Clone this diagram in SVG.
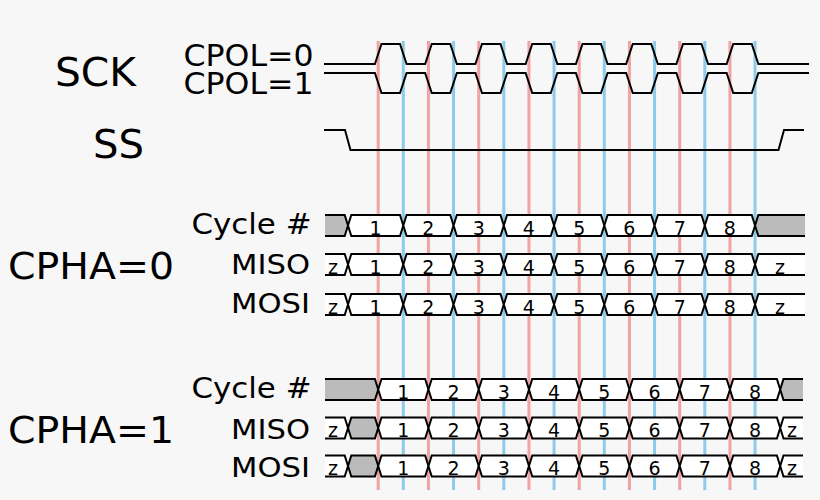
<svg xmlns="http://www.w3.org/2000/svg" width="820" height="500" viewBox="0 0 820 500">
<style>
.lbl{font-family:"DejaVu Sans","Liberation Sans",sans-serif;fill:#000}
.num{font-family:"DejaVu Sans","Liberation Sans",sans-serif;font-size:19px;fill:#000;text-anchor:middle}
.red{stroke:#f0a3a3;stroke-width:3}
.blue{stroke:#8ecbea;stroke-width:3}
.wave{fill:none;stroke:#000;stroke-width:2;stroke-linejoin:miter}
.seg{fill:#fff;stroke:#000;stroke-width:2}
.gseg{fill:#bbb;stroke:#000;stroke-width:2}
.gfill{fill:#bbb;stroke:none}
.wfill{fill:#fff;stroke:none}
.edge{fill:none;stroke:#000;stroke-width:2}
</style>
<rect width="820" height="500" fill="#f7f7f7"/>
<g id="guides">
<line class="red" x1="378.2" y1="41" x2="378.2" y2="490"/>
<line class="red" x1="428.45" y1="41" x2="428.45" y2="490"/>
<line class="red" x1="478.7" y1="41" x2="478.7" y2="490"/>
<line class="red" x1="528.95" y1="41" x2="528.95" y2="490"/>
<line class="red" x1="579.2" y1="41" x2="579.2" y2="490"/>
<line class="red" x1="629.45" y1="41" x2="629.45" y2="490"/>
<line class="red" x1="679.7" y1="41" x2="679.7" y2="490"/>
<line class="red" x1="729.95" y1="41" x2="729.95" y2="490"/>
<line class="blue" x1="403.3" y1="41" x2="403.3" y2="490"/>
<line class="blue" x1="453.55" y1="41" x2="453.55" y2="490"/>
<line class="blue" x1="503.8" y1="41" x2="503.8" y2="490"/>
<line class="blue" x1="554.05" y1="41" x2="554.05" y2="490"/>
<line class="blue" x1="604.3" y1="41" x2="604.3" y2="490"/>
<line class="blue" x1="654.55" y1="41" x2="654.55" y2="490"/>
<line class="blue" x1="704.8" y1="41" x2="704.8" y2="490"/>
<line class="blue" x1="755.05" y1="41" x2="755.05" y2="490"/>
</g>
<g id="labels">
<text class="lbl" x="55" y="86" font-size="39.5" textLength="81" lengthAdjust="spacingAndGlyphs">SCK</text>
<text class="lbl" x="183.5" y="66" font-size="30" textLength="130" lengthAdjust="spacingAndGlyphs">CPOL=0</text>
<text class="lbl" x="183.5" y="94" font-size="30" textLength="130" lengthAdjust="spacingAndGlyphs">CPOL=1</text>
<text class="lbl" x="93" y="158.3" font-size="39.5" textLength="51" lengthAdjust="spacingAndGlyphs">SS</text>
<text class="lbl" x="8" y="278.5" font-size="37" textLength="166" lengthAdjust="spacingAndGlyphs">CPHA=0</text>
<text class="lbl" x="8" y="443" font-size="37" textLength="166" lengthAdjust="spacingAndGlyphs">CPHA=1</text>
<text class="lbl" x="191.5" y="234.3" font-size="27.5" textLength="120" lengthAdjust="spacingAndGlyphs">Cycle #</text>
<text class="lbl" x="231" y="274" font-size="27" textLength="79" lengthAdjust="spacingAndGlyphs">MISO</text>
<text class="lbl" x="231" y="313" font-size="27" textLength="79" lengthAdjust="spacingAndGlyphs">MOSI</text>
<text class="lbl" x="191.5" y="398.3" font-size="27.5" textLength="120" lengthAdjust="spacingAndGlyphs">Cycle #</text>
<text class="lbl" x="231" y="439" font-size="27" textLength="79" lengthAdjust="spacingAndGlyphs">MISO</text>
<text class="lbl" x="231" y="477" font-size="27" textLength="79" lengthAdjust="spacingAndGlyphs">MOSI</text>
</g>
<g id="sck">
<path class="wave" d="M324,64H374.9L381.5,44H400L406.6,64H425.15L431.75,44H450.25L456.85,64H475.4L482,44H500.5L507.1,64H525.65L532.25,44H550.75L557.35,64H575.9L582.5,44H601L607.6,64H626.15L632.75,44H651.25L657.85,64H676.4L683,44H701.5L708.1,64H726.65L733.25,44H751.75L758.35,64H809"/>
<path class="wave" d="M324,73H374.9L381.5,93H400L406.6,73H425.15L431.75,93H450.25L456.85,73H475.4L482,93H500.5L507.1,73H525.65L532.25,93H550.75L557.35,73H575.9L582.5,93H601L607.6,73H626.15L632.75,93H651.25L657.85,73H676.4L683,93H701.5L708.1,73H726.65L733.25,93H751.75L758.35,73H809"/>
</g>
<g id="ss">
<path class="wave" d="M324,130H345L350.5,150H778.5L784,130H804"/>
</g>
<g id="cpha0-cycle" transform="translate(0,215)">
<polygon class="gfill" points="325,0 344.7,0 348,10.5 344.7,21 325,21"/>
<path class="edge" d="M325,0H344.7L348,10.5L344.7,21H325"/>
<polygon class="seg" points="348,10.5 351.3,0 400,0 403.3,10.5 400,21 351.3,21"/>
<polygon class="seg" points="403.3,10.5 406.6,0 450.25,0 453.55,10.5 450.25,21 406.6,21"/>
<polygon class="seg" points="453.55,10.5 456.85,0 500.5,0 503.8,10.5 500.5,21 456.85,21"/>
<polygon class="seg" points="503.8,10.5 507.1,0 550.75,0 554.05,10.5 550.75,21 507.1,21"/>
<polygon class="seg" points="554.05,10.5 557.35,0 601,0 604.3,10.5 601,21 557.35,21"/>
<polygon class="seg" points="604.3,10.5 607.6,0 651.25,0 654.55,10.5 651.25,21 607.6,21"/>
<polygon class="seg" points="654.55,10.5 657.85,0 701.5,0 704.8,10.5 701.5,21 657.85,21"/>
<polygon class="seg" points="704.8,10.5 708.1,0 751.75,0 755.05,10.5 751.75,21 708.1,21"/>
<polygon class="gfill" points="755.05,10.5 758.35,0 805,0 805,21 758.35,21"/>
<path class="edge" d="M805,0H758.35L755.05,10.5L758.35,21H805"/>
<text class="num" x="375.6" y="19.5">1</text>
<text class="num" x="428.4" y="19.5">2</text>
<text class="num" x="478.7" y="19.5">3</text>
<text class="num" x="528.9" y="19.5">4</text>
<text class="num" x="579.2" y="19.5">5</text>
<text class="num" x="629.4" y="19.5">6</text>
<text class="num" x="679.7" y="19.5">7</text>
<text class="num" x="729.9" y="19.5">8</text>
</g>
<g id="cpha0-miso" transform="translate(0,254)">
<polygon class="wfill" points="325,0 344.7,0 348,10.5 344.7,21 325,21"/>
<path class="edge" d="M325,0H344.7L348,10.5L344.7,21H325"/>
<polygon class="seg" points="348,10.5 351.3,0 400,0 403.3,10.5 400,21 351.3,21"/>
<polygon class="seg" points="403.3,10.5 406.6,0 450.25,0 453.55,10.5 450.25,21 406.6,21"/>
<polygon class="seg" points="453.55,10.5 456.85,0 500.5,0 503.8,10.5 500.5,21 456.85,21"/>
<polygon class="seg" points="503.8,10.5 507.1,0 550.75,0 554.05,10.5 550.75,21 507.1,21"/>
<polygon class="seg" points="554.05,10.5 557.35,0 601,0 604.3,10.5 601,21 557.35,21"/>
<polygon class="seg" points="604.3,10.5 607.6,0 651.25,0 654.55,10.5 651.25,21 607.6,21"/>
<polygon class="seg" points="654.55,10.5 657.85,0 701.5,0 704.8,10.5 701.5,21 657.85,21"/>
<polygon class="seg" points="704.8,10.5 708.1,0 751.75,0 755.05,10.5 751.75,21 708.1,21"/>
<polygon class="wfill" points="755.05,10.5 758.35,0 805,0 805,21 758.35,21"/>
<path class="edge" d="M805,0H758.35L755.05,10.5L758.35,21H805"/>
<text class="num" x="333" y="19.5">z</text>
<text class="num" x="375.6" y="19.5">1</text>
<text class="num" x="428.4" y="19.5">2</text>
<text class="num" x="478.7" y="19.5">3</text>
<text class="num" x="528.9" y="19.5">4</text>
<text class="num" x="579.2" y="19.5">5</text>
<text class="num" x="629.4" y="19.5">6</text>
<text class="num" x="679.7" y="19.5">7</text>
<text class="num" x="729.9" y="19.5">8</text>
<text class="num" x="780" y="19.5">z</text>
</g>
<g id="cpha0-mosi" transform="translate(0,294)">
<polygon class="wfill" points="325,0 344.7,0 348,10.5 344.7,21 325,21"/>
<path class="edge" d="M325,0H344.7L348,10.5L344.7,21H325"/>
<polygon class="seg" points="348,10.5 351.3,0 400,0 403.3,10.5 400,21 351.3,21"/>
<polygon class="seg" points="403.3,10.5 406.6,0 450.25,0 453.55,10.5 450.25,21 406.6,21"/>
<polygon class="seg" points="453.55,10.5 456.85,0 500.5,0 503.8,10.5 500.5,21 456.85,21"/>
<polygon class="seg" points="503.8,10.5 507.1,0 550.75,0 554.05,10.5 550.75,21 507.1,21"/>
<polygon class="seg" points="554.05,10.5 557.35,0 601,0 604.3,10.5 601,21 557.35,21"/>
<polygon class="seg" points="604.3,10.5 607.6,0 651.25,0 654.55,10.5 651.25,21 607.6,21"/>
<polygon class="seg" points="654.55,10.5 657.85,0 701.5,0 704.8,10.5 701.5,21 657.85,21"/>
<polygon class="seg" points="704.8,10.5 708.1,0 751.75,0 755.05,10.5 751.75,21 708.1,21"/>
<polygon class="wfill" points="755.05,10.5 758.35,0 805,0 805,21 758.35,21"/>
<path class="edge" d="M805,0H758.35L755.05,10.5L758.35,21H805"/>
<text class="num" x="333" y="19.5">z</text>
<text class="num" x="375.6" y="19.5">1</text>
<text class="num" x="428.4" y="19.5">2</text>
<text class="num" x="478.7" y="19.5">3</text>
<text class="num" x="528.9" y="19.5">4</text>
<text class="num" x="579.2" y="19.5">5</text>
<text class="num" x="629.4" y="19.5">6</text>
<text class="num" x="679.7" y="19.5">7</text>
<text class="num" x="729.9" y="19.5">8</text>
<text class="num" x="780" y="19.5">z</text>
</g>
<g id="cpha1-cycle" transform="translate(0,379)">
<polygon class="gfill" points="325,0 374.9,0 378.2,10.5 374.9,21 325,21"/>
<path class="edge" d="M325,0H374.9L378.2,10.5L374.9,21H325"/>
<polygon class="seg" points="378.2,10.5 381.5,0 425.15,0 428.45,10.5 425.15,21 381.5,21"/>
<polygon class="seg" points="428.45,10.5 431.75,0 475.4,0 478.7,10.5 475.4,21 431.75,21"/>
<polygon class="seg" points="478.7,10.5 482,0 525.65,0 528.95,10.5 525.65,21 482,21"/>
<polygon class="seg" points="528.95,10.5 532.25,0 575.9,0 579.2,10.5 575.9,21 532.25,21"/>
<polygon class="seg" points="579.2,10.5 582.5,0 626.15,0 629.45,10.5 626.15,21 582.5,21"/>
<polygon class="seg" points="629.45,10.5 632.75,0 676.4,0 679.7,10.5 676.4,21 632.75,21"/>
<polygon class="seg" points="679.7,10.5 683,0 726.65,0 729.95,10.5 726.65,21 683,21"/>
<polygon class="seg" points="729.95,10.5 733.25,0 776.9,0 780.2,10.5 776.9,21 733.25,21"/>
<polygon class="gfill" points="780.2,10.5 783.5,0 803,0 803,21 783.5,21"/>
<path class="edge" d="M803,0H783.5L780.2,10.5L783.5,21H803"/>
<text class="num" x="403.3" y="19.5">1</text>
<text class="num" x="453.6" y="19.5">2</text>
<text class="num" x="503.8" y="19.5">3</text>
<text class="num" x="554.1" y="19.5">4</text>
<text class="num" x="604.3" y="19.5">5</text>
<text class="num" x="654.6" y="19.5">6</text>
<text class="num" x="704.8" y="19.5">7</text>
<text class="num" x="755.1" y="19.5">8</text>
</g>
<g id="cpha1-miso" transform="translate(0,417.5)">
<polygon class="wfill" points="325,0 344.7,0 348,10.5 344.7,21 325,21"/>
<path class="edge" d="M325,0H344.7L348,10.5L344.7,21H325"/>
<polygon class="gseg" points="348,10.5 351.3,0 374.9,0 378.2,10.5 374.9,21 351.3,21"/>
<polygon class="seg" points="378.2,10.5 381.5,0 425.15,0 428.45,10.5 425.15,21 381.5,21"/>
<polygon class="seg" points="428.45,10.5 431.75,0 475.4,0 478.7,10.5 475.4,21 431.75,21"/>
<polygon class="seg" points="478.7,10.5 482,0 525.65,0 528.95,10.5 525.65,21 482,21"/>
<polygon class="seg" points="528.95,10.5 532.25,0 575.9,0 579.2,10.5 575.9,21 532.25,21"/>
<polygon class="seg" points="579.2,10.5 582.5,0 626.15,0 629.45,10.5 626.15,21 582.5,21"/>
<polygon class="seg" points="629.45,10.5 632.75,0 676.4,0 679.7,10.5 676.4,21 632.75,21"/>
<polygon class="seg" points="679.7,10.5 683,0 726.65,0 729.95,10.5 726.65,21 683,21"/>
<polygon class="seg" points="729.95,10.5 733.25,0 776.9,0 780.2,10.5 776.9,21 733.25,21"/>
<polygon class="wfill" points="780.2,10.5 783.5,0 803,0 803,21 783.5,21"/>
<path class="edge" d="M803,0H783.5L780.2,10.5L783.5,21H803"/>
<text class="num" x="333" y="19.5">z</text>
<text class="num" x="403.3" y="19.5">1</text>
<text class="num" x="453.6" y="19.5">2</text>
<text class="num" x="503.8" y="19.5">3</text>
<text class="num" x="554.1" y="19.5">4</text>
<text class="num" x="604.3" y="19.5">5</text>
<text class="num" x="654.6" y="19.5">6</text>
<text class="num" x="704.8" y="19.5">7</text>
<text class="num" x="755.1" y="19.5">8</text>
<text class="num" x="792" y="19.5">z</text>
</g>
<g id="cpha1-mosi" transform="translate(0,455.5)">
<polygon class="wfill" points="325,0 344.7,0 348,10.5 344.7,21 325,21"/>
<path class="edge" d="M325,0H344.7L348,10.5L344.7,21H325"/>
<polygon class="gseg" points="348,10.5 351.3,0 374.9,0 378.2,10.5 374.9,21 351.3,21"/>
<polygon class="seg" points="378.2,10.5 381.5,0 425.15,0 428.45,10.5 425.15,21 381.5,21"/>
<polygon class="seg" points="428.45,10.5 431.75,0 475.4,0 478.7,10.5 475.4,21 431.75,21"/>
<polygon class="seg" points="478.7,10.5 482,0 525.65,0 528.95,10.5 525.65,21 482,21"/>
<polygon class="seg" points="528.95,10.5 532.25,0 575.9,0 579.2,10.5 575.9,21 532.25,21"/>
<polygon class="seg" points="579.2,10.5 582.5,0 626.15,0 629.45,10.5 626.15,21 582.5,21"/>
<polygon class="seg" points="629.45,10.5 632.75,0 676.4,0 679.7,10.5 676.4,21 632.75,21"/>
<polygon class="seg" points="679.7,10.5 683,0 726.65,0 729.95,10.5 726.65,21 683,21"/>
<polygon class="seg" points="729.95,10.5 733.25,0 776.9,0 780.2,10.5 776.9,21 733.25,21"/>
<polygon class="wfill" points="780.2,10.5 783.5,0 803,0 803,21 783.5,21"/>
<path class="edge" d="M803,0H783.5L780.2,10.5L783.5,21H803"/>
<text class="num" x="333" y="19.5">z</text>
<text class="num" x="403.3" y="19.5">1</text>
<text class="num" x="453.6" y="19.5">2</text>
<text class="num" x="503.8" y="19.5">3</text>
<text class="num" x="554.1" y="19.5">4</text>
<text class="num" x="604.3" y="19.5">5</text>
<text class="num" x="654.6" y="19.5">6</text>
<text class="num" x="704.8" y="19.5">7</text>
<text class="num" x="755.1" y="19.5">8</text>
<text class="num" x="792" y="19.5">z</text>
</g>
</svg>
